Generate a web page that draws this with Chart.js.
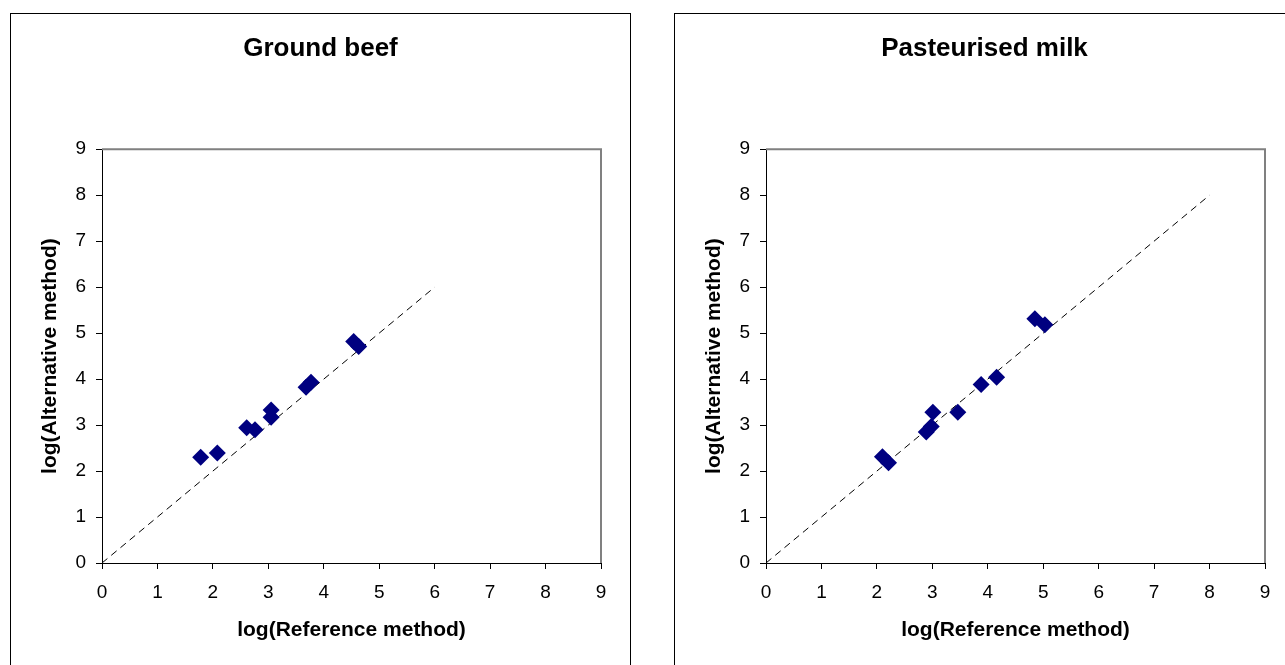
<!DOCTYPE html>
<html>
<head>
<meta charset="utf-8">
<script src="https://cdn.jsdelivr.net/npm/chart.js@4.4.0/dist/chart.umd.min.js"></script>
<style>
  html, body { margin: 0; padding: 0; background: #fff; overflow: hidden; width: 1285px; height: 665px; }
  .panel { position: absolute; top: 13px; width: 619px; height: 660px; border: 1px solid #000; background: #fff; }
  .panel canvas { display: block; }
</style>
</head>
<body>
<div class="panel" style="left:10px"><canvas id="beef" width="619" height="651"></canvas></div>
<div class="panel" style="left:674px"><canvas id="milk" width="619" height="651"></canvas></div>
<script>
// values
const beefRef = [1.78, 2.08, 2.61, 2.76, 3.05, 3.05, 3.68, 3.77, 4.54, 4.63];
const beefAlt = [2.30, 2.39, 2.94, 2.90, 3.33, 3.17, 3.82, 3.93, 4.82, 4.71];
const milkRef = [2.10, 2.21, 2.89, 2.98, 3.01, 3.46, 3.88, 4.16, 4.85, 5.03];
const milkAlt = [2.31, 2.18, 2.85, 2.97, 3.28, 3.28, 3.88, 4.04, 5.31, 5.18];
// 1:1 reference line end points
const beefLine = [0, 6];
const milkLine = [0, 8];
const axisMin = 0;
const axisMax = 9;

const FONT = "'Liberation Sans', Arial, sans-serif";

// grey frame on top/right of the plot area (Excel style)
const frame = {
  id: "frame",
  beforeDatasetsDraw(chart) {
    const { ctx, chartArea: a } = chart;
    ctx.save();
    ctx.strokeStyle = "#808080";
    ctx.lineWidth = 2;
    ctx.beginPath();
    ctx.moveTo(a.left, a.top);
    ctx.lineTo(a.right, a.top);
    ctx.lineTo(a.right, a.bottom);
    ctx.stroke();
    ctx.restore();
  },
};

function makeChart(id, title, xs, ys, line) {
  const points = xs.map((x, i) => ({ x: x, y: ys[i] }));
  const diag = line.map((v) => ({ x: v, y: v }));
  const ctx = document.getElementById(id).getContext("2d");
  return new Chart(ctx, {
    type: "scatter",
    data: {
      datasets: [
        {
          data: points,
          pointStyle: "rectRot",
          pointRadius: 8.5,
          pointHoverRadius: 8.5,
          backgroundColor: "#000080",
          borderColor: "#000080",
          borderWidth: 0,
          order: 1,
        },
        {
          type: "line",
          data: diag,
          borderColor: "#000",
          borderWidth: 1,
          borderDash: [7, 5],
          pointRadius: 0,
          fill: false,
          order: 2,
        },
      ],
    },
    options: {
      responsive: false,
      animation: false,
      layout: { padding: 0 },
      plugins: {
        legend: { display: false },
        tooltip: { enabled: false },
        title: {
          display: true,
          text: title,
          color: "#000",
          font: { family: FONT, size: 26, weight: "bold" },
          padding: { top: 19, bottom: 85 },
        },
      },
      scales: {
        x: {
          type: "linear",
          min: axisMin,
          max: axisMax,
          ticks: { stepSize: 1, color: "#000", font: { family: FONT, size: 19 }, padding: 12 },
          grid: { drawOnChartArea: false, drawTicks: true, tickLength: 6, color: "#000" },
          border: { display: true, color: "#000", width: 1 },
          title: {
            display: true,
            text: "log(Reference method)",
            color: "#000",
            font: { family: FONT, size: 21, weight: "bold" },
            padding: { top: 0, bottom: 22 },
          },
          afterFit(s) { s.height = 102; },
        },
        y: {
          type: "linear",
          min: axisMin,
          max: axisMax,
          ticks: { stepSize: 1, color: "#000", font: { family: FONT, size: 19 }, padding: 10 },
          grid: { drawOnChartArea: false, drawTicks: true, tickLength: 6, color: "#000" },
          border: { display: true, color: "#000", width: 1 },
          title: {
            display: true,
            text: "log(Alternative method)",
            color: "#000",
            font: { family: FONT, size: 21, weight: "bold" },
            padding: { top: 27, bottom: 0 },
          },
          afterFit(s) { s.width = 91; },
        },
        // empty right-hand axis: only reserves the margin right of the plot
        yRight: {
          type: "linear",
          position: "right",
          min: axisMin,
          max: axisMax,
          ticks: { display: false },
          grid: { display: false },
          border: { display: false },
          afterFit(s) { s.width = 29; },
        },
      },
    },
    plugins: [frame],
  });
}

makeChart("beef", "Ground beef", beefRef, beefAlt, beefLine);
makeChart("milk", "Pasteurised milk", milkRef, milkAlt, milkLine);
</script>
</body>
</html>
